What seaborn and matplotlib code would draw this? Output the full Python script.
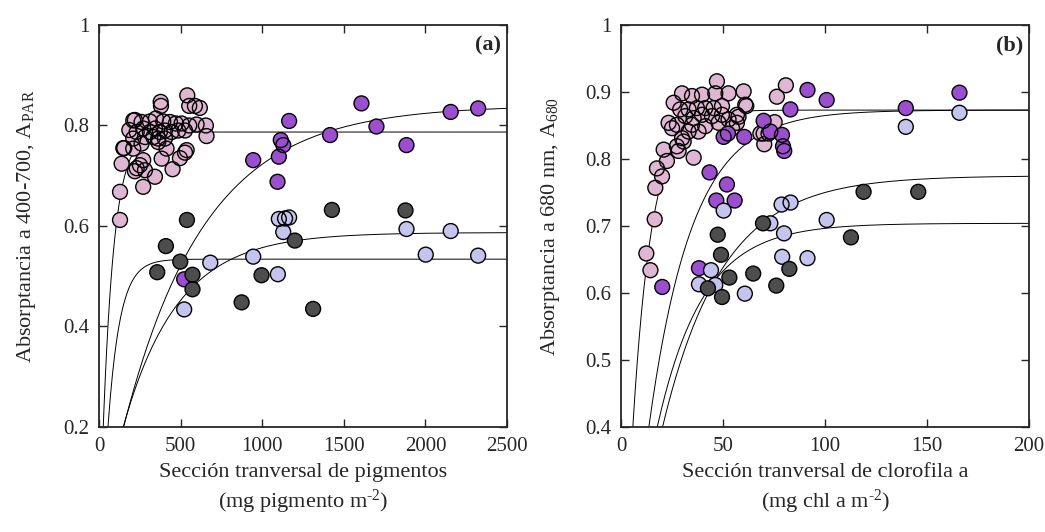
import numpy as np
import pandas as pd
import matplotlib
matplotlib.use("Agg")
import matplotlib.pyplot as plt
from matplotlib.ticker import FuncFormatter
import seaborn as sns

# ---------------- data: panel (a) ----------------
pinkA_x = [129, 129, 139, 149, 186, 210, 210, 220, 251, 261, 261, 271, 271, 282, 312, 343,
           349, 378, 380, 384, 414, 435, 451, 471, 496, 527, 537, 541, 553, 553, 588, 598,
           618, 655, 659, 312, 394, 506, 231, 271, 343, 373, 404, 445, 486, 527, 282, 333,
           363, 404, 363, 210, 231, 220, 155]
pinkA_y = [0.612, 0.668, 0.724, 0.755, 0.791, 0.810, 0.774, 0.709, 0.721, 0.807, 0.764, 0.731,
           0.678, 0.711, 0.787, 0.698, 0.814, 0.847, 0.839, 0.734, 0.754, 0.807, 0.713, 0.804,
           0.735, 0.746, 0.751, 0.860, 0.839, 0.800, 0.839, 0.802, 0.835, 0.800, 0.779, 0.808,
           0.808, 0.804, 0.787, 0.794, 0.794, 0.787, 0.790, 0.787, 0.790, 0.790, 0.777, 0.777,
           0.774, 0.774, 0.767, 0.754, 0.715, 0.811, 0.755]
purpA_x = [522, 945, 1094, 1102, 1114, 1129, 1165, 1416, 1608, 1700, 1884, 2155, 2323]
purpA_y = [0.494, 0.731, 0.688, 0.738, 0.771, 0.761, 0.809, 0.781, 0.844, 0.798, 0.761, 0.827, 0.834]
blueA_x = [522, 682, 945, 1096, 1102, 1129, 1140, 1165, 1884, 2002, 2155, 2323]
blueA_y = [0.434, 0.527, 0.539, 0.504, 0.614, 0.588, 0.615, 0.617, 0.594, 0.543, 0.590, 0.541]
darkA_x = [357, 410, 498, 539, 573, 573, 874, 996, 1200, 1312, 1427, 1878]
darkA_y = [0.508, 0.560, 0.529, 0.612, 0.503, 0.474, 0.448, 0.502, 0.571, 0.435, 0.632, 0.631]

# ---------------- data: panel (b) ----------------
pinkB_x = [47.0, 60.1, 52.7, 46.2, 39.7, 34.8, 29.9, 25.8, 29.0, 33.1, 37.2, 41.3, 45.4, 49.5,
           60.9, 31.5, 35.6, 39.7, 44.6, 49.5, 56.8, 23.3, 27.4, 34.8, 41.3, 47.8, 52.7, 56.8,
           25.0, 33.1, 38.0, 29.9, 30.7, 27.4, 28.2, 20.9, 35.6, 22.5, 17.6, 20.1, 16.8, 80.8,
           76.4, 61.4, 75.3, 69.9, 70.2, 57.6, 54.4, 16.5, 12.4, 14.4, 68.3, 72.3]
pinkB_y = [0.916, 0.901, 0.898, 0.898, 0.896, 0.894, 0.898, 0.884, 0.874, 0.874, 0.876, 0.876,
           0.876, 0.879, 0.881, 0.864, 0.861, 0.866, 0.864, 0.866, 0.866, 0.854, 0.851, 0.851,
           0.849, 0.854, 0.859, 0.854, 0.846, 0.841, 0.841, 0.831, 0.826, 0.819, 0.812, 0.814,
           0.802, 0.797, 0.786, 0.774, 0.757, 0.910, 0.893, 0.879, 0.855, 0.838, 0.822, 0.863,
           0.846, 0.710, 0.659, 0.634, 0.838, 0.838]
purpB_x = [20.2, 38.2, 43.4, 51.9, 46.7, 55.7, 50.3, 52.4, 60.4, 69.9, 73.2, 78.9, 79.4, 80.0,
           83.0, 91.4, 100.8, 139.6, 165.9]
purpB_y = [0.609, 0.637, 0.780, 0.762, 0.738, 0.738, 0.833, 0.838, 0.833, 0.857, 0.841, 0.836,
           0.819, 0.812, 0.874, 0.903, 0.888, 0.876, 0.899]
blueB_x = [38.2, 44.1, 46.2, 50.3, 60.7, 73.2, 78.7, 79.0, 79.9, 83.1, 91.4, 100.8, 139.6, 165.9]
blueB_y = [0.613, 0.634, 0.612, 0.723, 0.599, 0.704, 0.732, 0.654, 0.689, 0.735, 0.652, 0.709,
           0.848, 0.869]
darkB_x = [42.6, 47.4, 49.0, 49.5, 53.1, 64.8, 69.6, 76.1, 82.5, 112.7, 118.9, 145.7]
darkB_y = [0.607, 0.687, 0.657, 0.594, 0.623, 0.629, 0.704, 0.611, 0.636, 0.683, 0.751, 0.751]

# fitted saturating curves: A = Amax * (1 - exp(-k (x - x0)))
fitA_amax = [0.787, 0.840, 0.587, 0.534]
fitA_k = [0.0145, 0.0020, 0.0030, 0.0137]
fitA_x0 = [6, 15, 10, 21]
fitB_amax = [0.873, 0.873, 0.704, 0.775]
fitB_k = [0.106, 0.047, 0.045, 0.034]
fitB_x0 = [0.0, 0.6, -0.9, -1.0]

groups = ["pink", "purple", "blue", "dark"]
palette = {"pink": "#e0b7d3", "purple": "#9b4fcf", "blue": "#c4c4ee", "dark": "#4d4d4d"}

def frame(xs, ys):
    rows = []
    for g, x, y in zip(groups, xs, ys):
        rows.append(pd.DataFrame({"x": x, "y": y, "g": g}))
    return pd.concat(rows, ignore_index=True)

dfA = frame([pinkA_x, purpA_x, blueA_x, darkA_x], [pinkA_y, purpA_y, blueA_y, darkA_y])
dfB = frame([pinkB_x, purpB_x, blueB_x, darkB_x], [pinkB_y, purpB_y, blueB_y, darkB_y])

sns.set_style("ticks")
plt.rcParams["font.family"] = ["Liberation Serif", "DejaVu Serif"]
plt.rcParams["mathtext.fontset"] = "custom"
plt.rcParams["mathtext.rm"] = "Liberation Serif"
plt.rcParams["mathtext.it"] = "Liberation Serif:italic"

fig = plt.figure(figsize=(10.45, 5.32), dpi=100)
axA = fig.add_axes([0.0947, 0.1974, 0.3905, 0.7556])
axB = fig.add_axes([0.5943, 0.1974, 0.3904, 0.7556])

S = 115

def curves(ax, amax, k, x0, xmax):
    for a, kk, x00 in zip(amax, k, x0):
        xx = np.linspace(x00 + 1e-6, xmax, 600)
        yy = a * (1 - np.exp(-kk * (xx - x00)))
        sns.lineplot(x=xx, y=yy, ax=ax, color="black", lw=0.7, zorder=1,
                     estimator=None, sort=False)

def points(ax, df):
    for g in groups:
        sub = df[df.g == g]
        sns.scatterplot(data=sub, x="x", y="y", ax=ax, color=palette[g], s=S,
                        linewidth=0, edgecolor="none", zorder=2, legend=False)
        sns.scatterplot(data=sub, x="x", y="y", ax=ax, facecolor="none", s=S,
                        linewidth=1.0, edgecolor="black", zorder=2, legend=False)

curves(axA, fitA_amax, fitA_k, fitA_x0, 2500)
points(axA, dfA)
curves(axB, fitB_amax, fitB_k, fitB_x0, 200)
points(axB, dfB)

fmt = FuncFormatter(lambda v, p: f"{v:g}")
for ax in (axA, axB):
    ax.tick_params(direction="in", top=True, right=True, length=6, width=1,
                   labelsize=15, pad=7)
    for sp in ax.spines.values():
        sp.set_linewidth(1.3)
    ax.xaxis.set_major_formatter(fmt)
    ax.yaxis.set_major_formatter(fmt)

axA.set_xlim(0, 2500)
axA.set_ylim(0.2, 1.0)
axA.set_xticks([0, 500, 1000, 1500, 2000, 2500])
axA.set_yticks([0.2, 0.4, 0.6, 0.8, 1.0])
axB.set_xlim(0, 200)
axB.set_ylim(0.4, 1.0)
axB.set_xticks([0, 50, 100, 150, 200])
axB.set_yticks([0.4, 0.5, 0.6, 0.7, 0.8, 0.9, 1.0])

axA.set_xlabel("Sección tranversal de pigmentos\n(mg pigmento m$^{\\mathrm{\u20102}}$)",
               fontsize=16, labelpad=5, linespacing=1.3)
axB.set_xlabel("Sección tranversal de clorofila a\n(mg chl a m$^{\\mathrm{\u20102}}$)",
               fontsize=16, labelpad=5, linespacing=1.3)
axA.set_ylabel("Absorptancia a 400-700, A$_{\\mathrm{PAR}}$", fontsize=16, labelpad=18)
axB.set_ylabel("Absorptancia a 680 nm, A$_{\\mathrm{680}}$", fontsize=16, labelpad=17)

axA.text(0.985, 0.975, "(a)", transform=axA.transAxes, ha="right", va="top",
         fontsize=16, fontweight="bold")
axB.text(0.985, 0.975, "(b)", transform=axB.transAxes, ha="right", va="top",
         fontsize=16, fontweight="bold")

fig.savefig("out.png", dpi=100)
